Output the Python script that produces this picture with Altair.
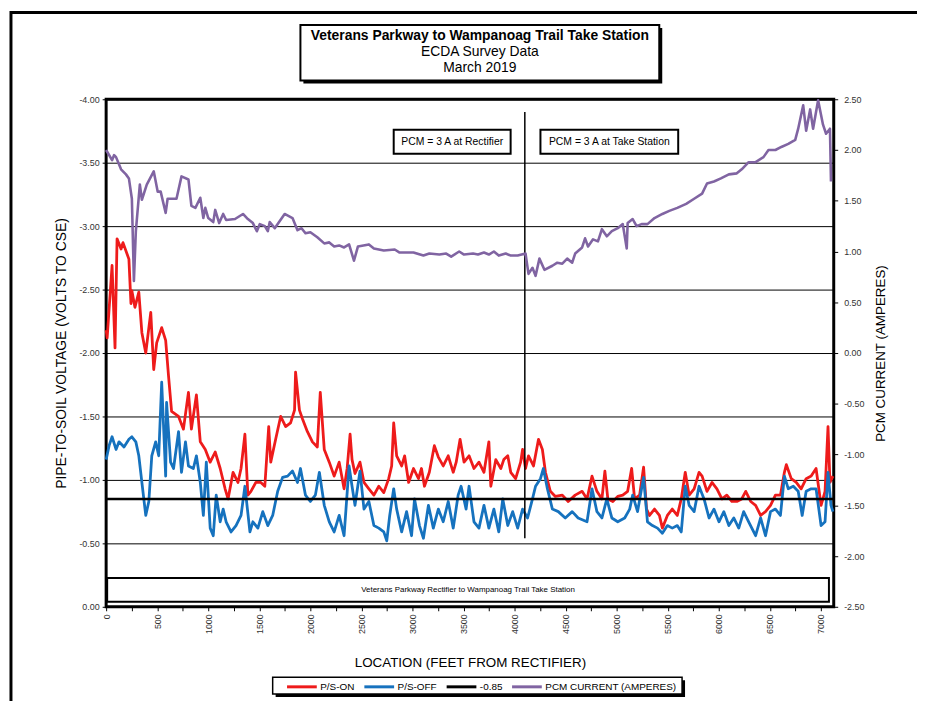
import altair as alt
import pandas as pd

# ---------------- data ----------------
RED_LOC = [0, 10, 58, 87, 107, 146, 165, 223, 243, 252,
           282, 320, 350, 388, 437, 466, 495, 544, 583, 612,
           641, 709, 757, 806, 835, 884, 922, 971, 1019, 1068,
           1117, 1165, 1194, 1243, 1291, 1321, 1359, 1388, 1418, 1466,
           1515, 1554, 1592, 1612, 1660, 1709, 1758, 1806, 1845, 1855,
           1893, 1923, 1971, 2020, 2068, 2097, 2136, 2185, 2233, 2282,
           2330, 2360, 2389, 2408, 2437, 2486, 2525, 2573, 2622, 2670,
           2719, 2767, 2796, 2816, 2845, 2894, 2923, 2962, 3010, 3059,
           3088, 3117, 3165, 3214, 3253, 3301, 3350, 3399, 3428, 3466,
           3505, 3554, 3602, 3651, 3700, 3748, 3767, 3816, 3865, 3894,
           3933, 3962, 4010, 4059, 4078, 4107, 4136, 4185, 4234, 4272,
           4302, 4350, 4399, 4467, 4525, 4593, 4661, 4709, 4758, 4806,
           4855, 4884, 4913, 4962, 5010, 5059, 5107, 5146, 5175, 5224,
           5263, 5292, 5321, 5370, 5418, 5447, 5496, 5544, 5593, 5632,
           5671, 5709, 5758, 5806, 5836, 5884, 5933, 5981, 6030, 6078,
           6127, 6176, 6224, 6263, 6312, 6360, 6409, 6457, 6506, 6554,
           6603, 6642, 6661, 6709, 6758, 6806, 6855, 6904, 6952, 7001,
           7040, 7069, 7088, 7117]
RED_V = [-2.18, -2.12, -2.69, -2.04, -2.90, -2.82, -2.87, -2.74, -2.39, -2.49,
         -2.36, -2.48, -2.16, -2.00, -2.32, -1.87, -2.08, -2.20, -2.10, -1.81,
         -1.54, -1.50, -1.40, -1.69, -1.40, -1.67, -1.30, -1.24, -1.14, -1.22,
         -1.09, -0.93, -0.85, -1.06, -0.98, -1.09, -1.36, -0.88, -0.91, -0.98,
         -0.98, -0.95, -1.42, -1.14, -1.32, -1.50, -1.42, -1.45, -1.55, -1.85,
         -1.55, -1.48, -1.38, -1.30, -1.26, -1.69, -1.24, -1.14, -1.03, -1.14,
         -0.93, -1.09, -1.36, -1.16, -1.05, -1.14, -0.98, -0.93, -0.88, -0.95,
         -0.90, -1.01, -1.11, -1.45, -1.19, -1.11, -1.19, -0.98, -1.09, -1.01,
         -1.09, -0.95, -1.06, -1.27, -1.18, -1.11, -1.19, -1.06, -1.14, -1.32,
         -1.14, -1.19, -1.09, -1.14, -1.06, -1.30, -0.95, -1.16, -1.09, -1.16,
         -1.19, -1.06, -1.01, -1.14, -1.24, -1.09, -1.19, -1.11, -1.32, -1.24,
         -1.06, -0.91, -0.87, -0.88, -0.83, -0.88, -0.91, -0.85, -1.03, -0.91,
         -0.85, -1.07, -0.85, -0.83, -0.87, -0.88, -0.91, -1.09, -0.85, -0.88,
         -1.10, -0.77, -0.72, -0.77, -0.72, -0.62, -0.72, -0.77, -0.72, -0.85,
         -1.06, -0.88, -0.93, -1.06, -1.03, -0.91, -0.98, -0.93, -0.85, -0.88,
         -0.83, -0.83, -0.85, -0.91, -0.83, -0.80, -0.72, -0.75, -0.80, -0.88,
         -0.88, -1.06, -1.12, -1.01, -0.98, -0.93, -1.01, -1.03, -1.09, -0.80,
         -0.91, -1.42, -0.98, -1.03]

BLUE_LOC = [0, 29, 58, 97, 126, 175, 223, 252, 291, 320,
            350, 388, 418, 447, 485, 515, 544, 583, 592, 631,
            660, 709, 738, 777, 806, 854, 884, 922, 952, 981,
            1019, 1049, 1078, 1117, 1146, 1175, 1223, 1272, 1321, 1359,
            1408, 1437, 1486, 1534, 1583, 1631, 1680, 1728, 1777, 1825,
            1874, 1903, 1952, 2000, 2049, 2088, 2136, 2185, 2233, 2282,
            2330, 2379, 2408, 2437, 2486, 2525, 2573, 2622, 2670, 2719,
            2748, 2777, 2816, 2845, 2894, 2942, 2991, 3020, 3068, 3107,
            3156, 3204, 3253, 3301, 3350, 3399, 3447, 3476, 3525, 3554,
            3602, 3651, 3700, 3748, 3797, 3845, 3884, 3933, 3981, 4030,
            4078, 4127, 4175, 4205, 4253, 4282, 4321, 4370, 4428, 4496,
            4564, 4622, 4709, 4758, 4806, 4855, 4903, 4952, 5010, 5078,
            5127, 5156, 5204, 5263, 5301, 5350, 5399, 5447, 5496, 5544,
            5593, 5632, 5671, 5709, 5758, 5806, 5855, 5904, 5952, 6001,
            6049, 6098, 6146, 6195, 6243, 6292, 6360, 6409, 6457, 6506,
            6554, 6603, 6642, 6680, 6729, 6777, 6816, 6855, 6904, 6952,
            7001, 7040, 7069, 7098, 7117]
BLUE_V = [-1.16, -1.27, -1.34, -1.24, -1.30, -1.26, -1.32, -1.34, -1.30, -1.19,
          -0.98, -0.72, -0.83, -1.19, -1.30, -1.19, -1.77, -1.03, -1.61, -1.14,
          -1.09, -1.38, -1.06, -1.30, -1.11, -1.09, -1.19, -0.98, -0.72, -1.14,
          -0.62, -0.56, -0.88, -0.67, -0.77, -0.67, -0.59, -0.64, -0.72, -0.95,
          -0.59, -0.67, -0.62, -0.75, -0.64, -0.72, -0.91, -1.02, -1.03, -1.07,
          -0.98, -1.09, -0.88, -0.83, -0.88, -1.06, -0.80, -0.67, -0.59, -0.72,
          -0.56, -1.11, -0.95, -0.80, -1.07, -0.77, -0.83, -0.64, -0.62, -0.59,
          -0.52, -0.72, -0.93, -0.77, -0.59, -0.75, -0.56, -0.85, -0.64, -0.54,
          -0.80, -0.62, -0.77, -0.67, -0.83, -0.62, -0.88, -0.95, -0.77, -0.95,
          -0.67, -0.62, -0.80, -0.62, -0.77, -0.59, -0.85, -0.64, -0.75, -0.62,
          -0.77, -0.70, -0.85, -0.95, -1.01, -1.09, -0.93, -0.77, -0.75, -0.70,
          -0.75, -0.70, -0.67, -0.93, -0.75, -0.70, -0.85, -0.70, -0.67, -0.70,
          -0.77, -0.88, -0.75, -1.02, -0.67, -0.64, -0.62, -0.58, -0.64, -0.62,
          -0.64, -0.59, -0.95, -0.80, -0.75, -0.95, -0.85, -0.70, -0.77, -0.67,
          -0.75, -0.64, -0.70, -0.62, -0.75, -0.67, -0.56, -0.70, -0.56, -0.75,
          -0.77, -0.72, -1.03, -0.93, -0.95, -0.91, -0.72, -0.91, -0.93, -0.93,
          -0.64, -0.67, -1.06, -0.80, -0.75]

PCM_LOC = [0, 58, 78, 97, 146, 194, 223, 252, 272, 291,
           330, 350, 398, 466, 505, 534, 583, 602, 689, 738,
           806, 835, 874, 922, 952, 971, 1000, 1049, 1068, 1107,
           1146, 1175, 1262, 1340, 1388, 1437, 1476, 1505, 1554, 1583,
           1602, 1651, 1748, 1825, 1874, 1913, 1952, 2000, 2068, 2136,
           2185, 2233, 2282, 2330, 2379, 2427, 2466, 2573, 2622, 2719,
           2826, 2874, 3010, 3107, 3165, 3263, 3330, 3379, 3457, 3505,
           3593, 3641, 3700, 3748, 3797, 3845, 3913, 3962, 4030, 4107,
           4136, 4175, 4205, 4243, 4292, 4370, 4418, 4467, 4515, 4564,
           4593, 4661, 4690, 4719, 4768, 4816, 4855, 4903, 4952, 5010,
           5059, 5098, 5107, 5156, 5195, 5243, 5301, 5370, 5447, 5515,
           5593, 5680, 5758, 5836, 5884, 5952, 6020, 6098, 6176, 6224,
           6292, 6360, 6437, 6486, 6554, 6612, 6680, 6748, 6777, 6826,
           6855, 6894, 6923, 6972, 7020, 7050, 7088, 7098]
PCM_A = [2.00, 1.90, 1.95, 1.93, 1.81, 1.76, 1.72, 1.52, 0.71, 1.20,
         1.66, 1.51, 1.66, 1.79, 1.59, 1.59, 1.38, 1.52, 1.52, 1.74,
         1.71, 1.45, 1.43, 1.53, 1.33, 1.43, 1.33, 1.29, 1.41, 1.28,
         1.37, 1.31, 1.32, 1.37, 1.32, 1.28, 1.20, 1.27, 1.25, 1.20,
         1.29, 1.23, 1.37, 1.33, 1.21, 1.23, 1.18, 1.19, 1.14, 1.08,
         1.09, 1.05, 1.06, 1.04, 1.07, 0.91, 1.05, 1.07, 1.03, 1.01,
         1.02, 0.99, 0.99, 0.96, 0.98, 0.97, 0.98, 0.95, 1.00, 0.97,
         0.98, 0.97, 0.99, 0.97, 1.00, 0.96, 0.98, 0.96, 0.96, 0.98,
         0.78, 0.84, 0.76, 0.93, 0.82, 0.86, 0.89, 0.88, 0.93, 0.89,
         0.98, 1.04, 1.13, 1.05, 1.12, 1.10, 1.22, 1.15, 1.20, 1.23,
         1.27, 1.03, 1.28, 1.32, 1.25, 1.27, 1.27, 1.33, 1.37, 1.40,
         1.43, 1.47, 1.52, 1.57, 1.67, 1.69, 1.72, 1.76, 1.77, 1.81,
         1.88, 1.88, 1.93, 2.00, 2.00, 2.03, 2.06, 2.10, 2.21, 2.44,
         2.19, 2.40, 2.21, 2.49, 2.25, 2.16, 2.21, 1.69]

SERIES = ["P/S-ON", "P/S-OFF", "-0.85", "PCM CURRENT (AMPERES)"]
COLORS = ["#EE1B1B", "#1672BE", "#000000", "#8064A2"]

CRITERION = [-0.85]
DIVIDER_LOC = [4100]
DIVIDER_TOP = [-3.90]
DIVIDER_BOTTOM = [-0.54]

ANN_TEXT = ["PCM = 3 A at Rectifier", "PCM = 3 A at Take Station"]
ANN_LEFT = [2816, 4253]
ANN_RIGHT = [3961, 5602]
ANN_TOP = [-3.76, -3.76]
ANN_BOTTOM = [-3.57, -3.57]

BAND_TEXT = ["Veterans Parkway Rectifier to Wampanoag Trail Take Station"]
BAND_LEFT = [10]
BAND_RIGHT = [7078]
BAND_TOP = [-0.227]
BAND_BOTTOM = [-0.039]

TITLE_LINES = ["Veterans Parkway to Wampanoag Trail Take Station",
               "ECDA Survey Data", "March 2019"]

X_TICKS = list(range(0, 7001, 250))
Y_TICKS = [-4.0, -3.5, -3.0, -2.5, -2.0, -1.5, -1.0, -0.5, 0.0]
PCM_TICKS = [-2.5, -2.0, -1.5, -1.0, -0.5, 0.0, 0.5, 1.0, 1.5, 2.0, 2.5]

# ---------------- layout ----------------
FONT = "Liberation Sans"
W, H = 734, 512
PAD_L, PAD_T, PAD_R, PAD_B = 99, 89, 84, 95
MINUS = "\u2212"


def fix_minus(fmt):
    return "replace(format(datum.value, '%s'), '%s', '-')" % (fmt, MINUS)


X_AXIS = alt.Axis(values=X_TICKS,
                  labelExpr="datum.value % 500 == 0 ? format(datum.value, 'd') : ''",
                  labelAngle=270, labelFontSize=9, labelColor="#333333", labelFont=FONT,
                  labelPadding=3, labelFlush=False, labelOverlap=False,
                  tickSize=4, tickColor="black", tickWidth=1, domain=False, grid=False,
                  title="LOCATION (FEET FROM RECTIFIER)", titleFont=FONT, titleFontSize=13.5,
                  titleFontWeight="normal", titleColor="black", titlePadding=22)

Y_AXIS = alt.Axis(values=Y_TICKS, labelExpr=fix_minus(".2f"), orient="left",
                  grid=True, gridColor="black", gridWidth=1, gridOpacity=1,
                  tickSize=4, tickColor="black", domain=False,
                  labelFontSize=9, labelColor="#333333", labelFont=FONT, labelPadding=3,
                  labelFlush=False,
                  title="PIPE-TO-SOIL VOLTAGE (VOLTS TO CSE)", titleFont=FONT,
                  titleFontSize=14, titleFontWeight="normal", titleColor="black",
                  titlePadding=10)

R_AXIS = alt.Axis(values=PCM_TICKS, labelExpr=fix_minus(".2f"), orient="right",
                  grid=False, tickSize=4, tickColor="black", domain=False,
                  labelFontSize=9, labelColor="#333333", labelFont=FONT, labelPadding=6,
                  labelFlush=False,
                  title="PCM CURRENT (AMPERES)", titleFont=FONT, titleFontSize=13.5,
                  titleFontWeight="normal", titleColor="black", titleAngle=270,
                  titleBaseline="top", titlePadding=10)

X_SCALE = alt.Scale(domain=[0, 7125], nice=False, zero=False)
Y_SCALE = alt.Scale(domain=[-4, 0], reverse=True, nice=False, zero=False)


def xe(field):
    return alt.X(field, type="quantitative", scale=X_SCALE, axis=X_AXIS)


def ly(field):
    return alt.Y(field, type="quantitative", scale=Y_SCALE, axis=Y_AXIS)


def color_enc():
    return alt.Color("series:N",
                     scale=alt.Scale(domain=SERIES, range=COLORS),
                     legend=alt.Legend(title=None, orient="none", legendX=181, legendY=576,
                                       direction="horizontal", symbolType="stroke",
                                       symbolSize=900, symbolStrokeWidth=3,
                                       labelFontSize=10, labelFont=FONT, labelColor="black",
                                       labelOffset=2, columnPadding=3, padding=0, zindex=1))


red_df = pd.DataFrame({"loc": RED_LOC, "volts": RED_V, "series": SERIES[0]})
blue_df = pd.DataFrame({"loc": BLUE_LOC, "volts": BLUE_V, "series": SERIES[1]})
pcm_df = pd.DataFrame({"loc": PCM_LOC, "amps": PCM_A, "series": SERIES[3]})
crit_df = pd.DataFrame({"volts": CRITERION, "series": [SERIES[2]]})
div_df = pd.DataFrame({"loc": DIVIDER_LOC, "volts": DIVIDER_TOP, "volts2": DIVIDER_BOTTOM})
ann_df = pd.DataFrame({"loc": ANN_LEFT, "loc2": ANN_RIGHT, "volts": ANN_TOP,
                       "volts2": ANN_BOTTOM, "label": ANN_TEXT})
ann_df["xc"] = (ann_df["loc"] + ann_df["loc2"]) / 2
ann_df["yc"] = (ann_df["volts"] + ann_df["volts2"]) / 2
band_df = pd.DataFrame({"loc": BAND_LEFT, "loc2": BAND_RIGHT, "volts": BAND_TOP,
                        "volts2": BAND_BOTTOM, "label": BAND_TEXT})
band_df["xc"] = (band_df["loc"] + band_df["loc2"]) / 2
band_df["yc"] = (band_df["volts"] + band_df["volts2"]) / 2

one = pd.DataFrame({"k": [0]})
deco = alt.Chart(one)

# outer page frame
frame_top = deco.mark_rule(color="black", strokeWidth=3).encode(
    x=alt.value(-96), x2=alt.value(W + PAD_R + 5), y=alt.value(-87.5))
frame_left = deco.mark_rule(color="black", strokeWidth=3).encode(
    x=alt.value(-96), y=alt.value(-PAD_T), y2=alt.value(H + PAD_B))

# title box with shadow
title_shadow = deco.mark_rect(fill="black").encode(
    x=alt.value(199), x2=alt.value(561), y=alt.value(-72), y2=alt.value(-16))
title_box = deco.mark_rect(fill="white", stroke="black", strokeWidth=2).encode(
    x=alt.value(196), x2=alt.value(558), y=alt.value(-75), y2=alt.value(-19))
title_layers = []
for i, line in enumerate(TITLE_LINES):
    title_layers.append(deco.mark_text(
        font=FONT, fontSize=14, fontWeight="bold" if i == 0 else "normal",
        color="black", align="center", baseline="middle").encode(
        x=alt.value(377), y=alt.value(-64 + 16 * i), text=alt.value(line)))

# legend box with shadow
leg_shadow = deco.mark_rect(fill="black").encode(
    x=alt.value(171), x2=alt.value(584), y=alt.value(586), y2=alt.value(603))
leg_box = deco.mark_rect(fill="white", stroke="black", strokeWidth=1.5).encode(
    x=alt.value(168), x2=alt.value(581), y=alt.value(583), y2=alt.value(600))

red = alt.Chart(red_df).mark_line(strokeWidth=2.8, strokeJoin="round").encode(
    x=xe("loc"), y=ly("volts"), color=color_enc(), order="loc:Q")
blue = alt.Chart(blue_df).mark_line(strokeWidth=2.8, strokeJoin="round").encode(
    x=xe("loc"), y=ly("volts"), color=color_enc(), order="loc:Q")
crit = alt.Chart(crit_df).mark_rule(strokeWidth=2.5).encode(
    y=ly("volts"), color=color_enc())
divider = alt.Chart(div_df).mark_rule(color="black", strokeWidth=1.5).encode(
    x=xe("loc"), y=ly("volts"), y2="volts2")
ann_box = alt.Chart(ann_df).mark_rect(fill="white", stroke="black", strokeWidth=2).encode(
    x=xe("loc"), x2="loc2", y=ly("volts"), y2="volts2")
ann_txt = alt.Chart(ann_df).mark_text(font=FONT, fontSize=10.5, color="black",
                                      align="center", baseline="middle").encode(
    x=xe("xc"), y=ly("yc"), text="label:N")
band_box = alt.Chart(band_df).mark_rect(fill="white", stroke="black", strokeWidth=2).encode(
    x=xe("loc"), x2="loc2", y=ly("volts"), y2="volts2")
band_txt = alt.Chart(band_df).mark_text(font=FONT, fontSize=8, color="black",
                                        align="center", baseline="middle").encode(
    x=xe("xc"), y=ly("yc"), text="label:N")

pcm = alt.Chart(pcm_df).mark_line(strokeWidth=2.6, strokeJoin="round").encode(
    x=xe("loc"),
    y=alt.Y("amps:Q", scale=alt.Scale(domain=[-2.5, 2.5], nice=False, zero=False), axis=R_AXIS),
    color=color_enc(), order="loc:Q")

left = alt.layer(frame_top, frame_left, title_shadow, title_box, *title_layers,
                 leg_shadow, leg_box,
                 band_box, band_txt, red, blue, crit, divider, ann_box, ann_txt)

chart = alt.layer(left, pcm).resolve_scale(y="independent").properties(
    width=W, height=H,
    padding={"left": PAD_L, "top": PAD_T, "right": PAD_R, "bottom": PAD_B},
    autosize=alt.AutoSizeParams(type="none"),
    background="white",
).configure(font=FONT).configure_view(stroke="black", strokeWidth=3)

chart.save("out.html", embed_options={"renderer": "svg", "actions": False})
